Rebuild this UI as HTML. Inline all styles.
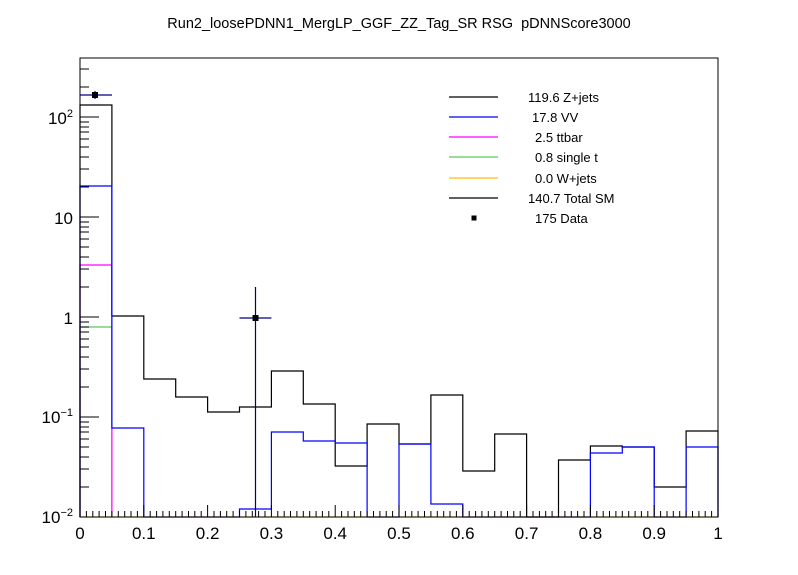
<!DOCTYPE html>
<html><head><meta charset="utf-8"><style>body{margin:0;background:#fff}svg{display:block}text{font-family:"Liberation Sans",sans-serif}</style></head><body>
<svg width="798" height="575" viewBox="0 0 798 575" xmlns="http://www.w3.org/2000/svg">
<rect width="798" height="575" fill="#fff"/>
<text x="399" y="28" font-size="14.5" text-anchor="middle">Run2_loosePDNN1_MergLP_GGF_ZZ_Tag_SR RSG&#160; pDNNScore3000</text>
<g fill="none" stroke-width="1.2">
<path d="M80,517 V327 H111.9 V517" stroke="#5fc85f"/>
<path d="M80,517 V265 H111.9 V517" stroke="#ff00ff"/>
<path d="M80,517 V105 H111.9 V316 H143.8 V379 H175.7 V397 H207.6 V412 H239.5 V407 H271.4 V371 H303.3 V404 H335.2 V466 H367.1 V424 H399 V444 H430.9 V395 H462.8 V471 H494.7 V434 H526.6 V517 H558.5 V460 H590.4 V446 H622.3 V447 H654.2 V487 H686.1 V431 H718 V517" stroke="#000"/>
<path d="M80,517 V186 H111.9 V428 H143.8 V517 H239.5 V509 H271.4 V432 H303.3 V441 H335.2 V443 H367.1 V517 H399 V444 H430.9 V504 H462.8 V517 H590.4 V453 H622.3 V447 H654.2 V517 H686.1 V447 H718 V517" stroke="#0000ff"/>
</g>
<line x1="80" y1="517" x2="718" y2="517" stroke="#ffc000" stroke-width="1.2"/>
<rect x="80" y="58" width="638" height="459" fill="none" stroke="#000" stroke-width="1"/>
<g stroke="#000" stroke-width="1">
<path d="M80,517H99M80,417H99M80,317H99M80,217H99M80,117H99"/>
<path d="M80,487H89M80,469H89M80,457H89M80,447H89M80,439H89M80,432H89M80,427H89M80,422H89
M80,387H89M80,369H89M80,357H89M80,347H89M80,339H89M80,332H89M80,327H89M80,322H89
M80,287H89M80,269H89M80,257H89M80,247H89M80,239H89M80,232H89M80,227H89M80,222H89
M80,187H89M80,169H89M80,157H89M80,147H89M80,139H89M80,132H89M80,127H89M80,122H89
M80,87H89M80,69H89"/>
<path d="M143.8,517V505M207.6,517V505M271.4,517V505M335.2,517V505M399,517V505M462.8,517V505M526.6,517V505M590.4,517V505M654.2,517V505"/>
<path d="M86.4,517v-6M92.8,517v-6M99.1,517v-6M105.5,517v-6M111.9,517v-6M118.3,517v-6M124.7,517v-6M131,517v-6M137.4,517v-6
M150.2,517v-6M156.6,517v-6M162.9,517v-6M169.3,517v-6M175.7,517v-6M182.1,517v-6M188.5,517v-6M194.8,517v-6M201.2,517v-6
M214,517v-6M220.4,517v-6M226.7,517v-6M233.1,517v-6M239.5,517v-6M245.9,517v-6M252.3,517v-6M258.6,517v-6M265,517v-6
M277.8,517v-6M284.2,517v-6M290.5,517v-6M296.9,517v-6M303.3,517v-6M309.7,517v-6M316.1,517v-6M322.4,517v-6M328.8,517v-6
M341.6,517v-6M348,517v-6M354.3,517v-6M360.7,517v-6M367.1,517v-6M373.5,517v-6M379.9,517v-6M386.2,517v-6M392.6,517v-6
M405.4,517v-6M411.8,517v-6M418.1,517v-6M424.5,517v-6M430.9,517v-6M437.3,517v-6M443.7,517v-6M450,517v-6M456.4,517v-6
M469.2,517v-6M475.6,517v-6M481.9,517v-6M488.3,517v-6M494.7,517v-6M501.1,517v-6M507.5,517v-6M513.8,517v-6M520.2,517v-6
M533,517v-6M539.4,517v-6M545.7,517v-6M552.1,517v-6M558.5,517v-6M564.9,517v-6M571.3,517v-6M577.6,517v-6M584,517v-6
M596.8,517v-6M603.2,517v-6M609.5,517v-6M615.9,517v-6M622.3,517v-6M628.7,517v-6M635.1,517v-6M641.4,517v-6M647.8,517v-6
M660.6,517v-6M667,517v-6M673.3,517v-6M679.7,517v-6M686.1,517v-6M692.5,517v-6M698.9,517v-6M705.2,517v-6M711.6,517v-6"/>
</g>
<g stroke="#000080" stroke-width="1.2">
<path d="M80,95H112M95,91V99"/>
<path d="M239.5,318H271.4M255.5,287V517"/>
</g>
<rect x="92" y="92" width="6" height="6" fill="#000"/>
<rect x="252.5" y="315" width="6" height="6" fill="#000"/>
<g font-size="17" text-anchor="end">
<text x="73" y="523">10<tspan font-size="11" dy="-7">−2</tspan></text>
<text x="73" y="423">10<tspan font-size="11" dy="-7">−1</tspan></text>
<text x="73" y="324">1</text>
<text x="73" y="224">10</text>
<text x="73" y="124">10<tspan font-size="11" dy="-7">2</tspan></text>
</g>
<g font-size="17" text-anchor="middle">
<text x="80" y="539">0</text><text x="143.8" y="539">0.1</text><text x="207.6" y="539">0.2</text><text x="271.4" y="539">0.3</text><text x="335.2" y="539">0.4</text><text x="399" y="539">0.5</text><text x="462.8" y="539">0.6</text><text x="526.6" y="539">0.7</text><text x="590.4" y="539">0.8</text><text x="654.2" y="539">0.9</text><text x="718" y="539">1</text>
</g>
<g stroke-width="1.2">
<line x1="449" y1="97" x2="498" y2="97" stroke="#000"/>
<line x1="449" y1="117" x2="498" y2="117" stroke="#0000ff"/>
<line x1="449" y1="137" x2="498" y2="137" stroke="#ff00ff"/>
<line x1="449" y1="157" x2="498" y2="157" stroke="#5fc85f"/>
<line x1="449" y1="178" x2="498" y2="178" stroke="#ffc000"/>
<line x1="449" y1="198" x2="498" y2="198" stroke="#000"/>
</g>
<rect x="471.5" y="215.5" width="5" height="5" fill="#000"/>
<g font-size="13">
<text x="528" y="102">119.6 Z+jets</text>
<text x="532" y="122">17.8 VV</text>
<text x="535" y="142">2.5 ttbar</text>
<text x="535" y="162">0.8 single t</text>
<text x="535" y="183">0.0 W+jets</text>
<text x="528" y="203">140.7 Total SM</text>
<text x="535" y="223">175 Data</text>
</g>
</svg>
</body></html>
